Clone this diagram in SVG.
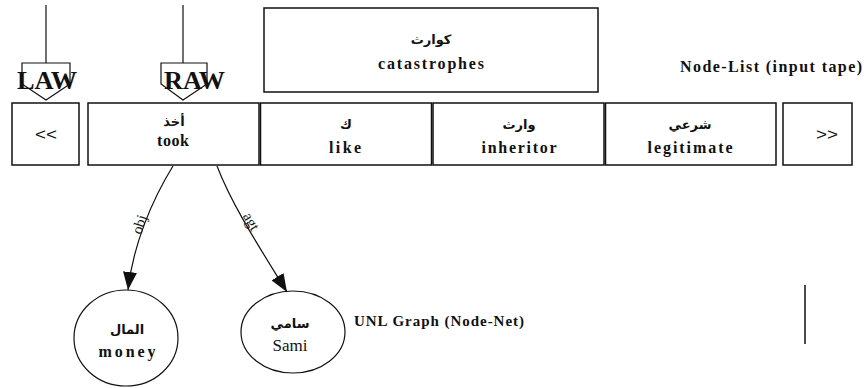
<svg xmlns="http://www.w3.org/2000/svg" width="866" height="388" viewBox="0 0 866 388">
<style>
.box{fill:#fff;stroke:#111;stroke-width:1.5}
.ptr{fill:#fff;stroke:#111;stroke-width:1.2}
.ln{fill:none;stroke:#111;stroke-width:1.2}
.en{font-family:"Liberation Serif","Times New Roman",serif;font-weight:bold;font-size:16px;text-anchor:middle;fill:#111}
.ar{font-family:"DejaVu Sans",sans-serif;font-weight:bold;font-size:13px;text-anchor:middle;fill:#111}
.sans{font-family:"Liberation Sans",Arial,sans-serif;font-size:17px;fill:#111}
.big{font-family:"Liberation Serif","Times New Roman",serif;font-weight:bold;font-size:26px;fill:#111}
.lab{font-family:"Liberation Serif","Times New Roman",serif;font-size:15px;text-anchor:middle;fill:#111}
.title{font-family:"Liberation Serif","Times New Roman",serif;font-weight:bold;font-size:16px;fill:#111}
</style>
<defs>
<marker id="ah" markerUnits="userSpaceOnUse" markerWidth="18" markerHeight="14" refX="18" refY="7" orient="auto">
<path d="M0,0 L18,7 L0,14 z" fill="#111"/>
</marker>
</defs>
<g id="law">
<line class="ln" x1="46" y1="5" x2="46" y2="63"/>
<polygon class="ptr" points="22,63 70,63 70,84 46,100 22,84"/>
<text class="big" x="17" y="89" textLength="60" lengthAdjust="spacingAndGlyphs">LAW</text>
</g>
<g id="raw">
<line class="ln" x1="183" y1="5" x2="183" y2="63"/>
<polygon class="ptr" points="161,63 207,63 207,84 183,100 161,84"/>
<text class="big" x="164" y="89" textLength="61" lengthAdjust="spacingAndGlyphs">RAW</text>
</g>
<g id="catastrophes">
<rect class="box" x="264" y="8" width="334" height="84"/>
<text class="ar" x="431" y="44">كوارث</text>
<text class="en" x="431" y="69" textLength="106" lengthAdjust="spacing">catastrophes</text>
</g>
<g id="prev">
<rect class="box" x="12" y="103" width="67" height="62"/>
<text class="sans" x="35" y="140" textLength="22" lengthAdjust="spacingAndGlyphs">&lt;&lt;</text>
</g>
<g id="took">
<rect class="box" x="88" y="103" width="171" height="62"/>
<text class="ar" x="174" y="126">أخذ</text>
<text class="en" x="173" y="146" textLength="32" lengthAdjust="spacing">took</text>
</g>
<g id="like">
<rect class="box" x="260.5" y="103" width="171" height="62"/>
<text class="ar" x="346" y="129">ك</text>
<text class="en" x="345" y="153" textLength="32" lengthAdjust="spacing">like</text>
</g>
<g id="inheritor">
<rect class="box" x="433" y="103" width="171" height="62"/>
<text class="ar" x="519" y="129">وارث</text>
<text class="en" x="519" y="153" textLength="75" lengthAdjust="spacing">inheritor</text>
</g>
<g id="legitimate">
<rect class="box" x="605.5" y="103" width="170.5" height="62"/>
<text class="ar" x="690" y="129">شرعي</text>
<text class="en" x="690" y="153" textLength="85" lengthAdjust="spacing">legitimate</text>
</g>
<g id="next">
<rect class="box" x="783" y="103" width="69" height="62"/>
<text class="sans" x="816" y="140" textLength="22" lengthAdjust="spacingAndGlyphs">&gt;&gt;</text>
</g>
<g id="money">
<ellipse class="ln" cx="126" cy="338" rx="52" ry="48"/>
<text class="ar" x="127" y="334">المال</text>
<text class="en" x="127" y="357" textLength="57" lengthAdjust="spacing">money</text>
</g>
<g id="sami">
<ellipse class="ln" cx="293" cy="332" rx="52" ry="41"/>
<text class="ar" x="290" y="328">سامي</text>
<text class="lab" x="290" y="351" style="font-size:17px">Sami</text>
</g>
<g id="connectors">
<path class="ln" d="M173,166 C152,200 133,245 128,290" marker-end="url(#ah)"/>
<path class="ln" d="M217,166 C232,205 258,245 287,292" marker-end="url(#ah)"/>
<text class="lab" transform="translate(144,226) rotate(-72)">obj</text>
<text class="lab" transform="translate(247,224) rotate(60)">agt</text>
</g>
<g id="labels">
<text class="title" x="680" y="72" textLength="182" lengthAdjust="spacing">Node-List (input tape)</text>
<text class="title" x="354" y="326" style="font-size:15px" textLength="170" lengthAdjust="spacing">UNL Graph (Node-Net)</text>
<line class="ln" x1="805" y1="285" x2="805" y2="344" style="stroke-width:1.5"/>
</g>
</svg>
